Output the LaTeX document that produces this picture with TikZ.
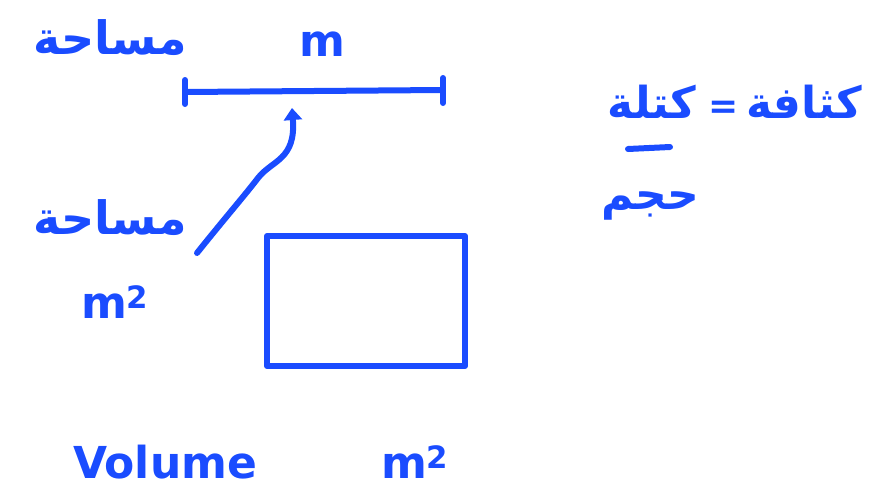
\documentclass[tikz,border=0pt]{standalone}
\usepackage{fontspec}
\setmainfont{DejaVu Sans}
\newfontfamily\arabicfont[Script=Arabic]{DejaVu Sans}
\TeXXeTstate=1
\usetikzlibrary{arrows.meta}
\definecolor{ink}{RGB}{26,76,255}
\begin{document}
\begin{tikzpicture}[x=1pt,y=-1pt,
  stroke/.style={draw=ink,line width=6pt,line cap=round,line join=round},
  hand/.style={text=ink,inner sep=0pt},
  ar/.style={hand,font=\arabicfont\bfseries\fontsize{46}{52}\selectfont},
  arbig/.style={hand,font=\arabicfont\bfseries\fontsize{44}{50}\selectfont},
  lat/.style={hand,font=\bfseries\fontsize{44}{50}\selectfont}]
\useasboundingbox (0,0) rectangle (871,491);
% top-left label
\node[ar] (area1) at (110,38) {\beginR مساحة\endR};
% segment
\coordinate (segL) at (185,92);
\coordinate (segR) at (442,90);
\draw[stroke] (segL) -- (segR);
\draw[stroke] (185,80) -- (185,104);
\draw[stroke] (443,78) -- (443,103);
\node[lat] (munit) at (322,44) {m};
% left label with arrow
\node[ar] (area2) at (110,218) {\beginR مساحة\endR};
\node[lat,anchor=base] (munit2) at (115,318) {m\textsuperscript{2}};
\coordinate (astart) at (197,253);
\coordinate (aend) at (292,108);
\draw[stroke,-{Triangle[length=12pt,width=18pt]}] (astart) .. controls (225,218) and (245,195) .. (258,178)
  .. controls (272,160) and (296,160) .. (aend);
% rectangle
\node[stroke,minimum width=198,minimum height=130,inner sep=0pt] (box) at (366,301) {};
% bottom labels
\node[lat,anchor=base] (vol) at (165,478) {Volume};
\node[lat,anchor=base] (munit3) at (415,478) {m\textsuperscript{2}};
% density formula
\node[arbig] (density) at (804,102) {\beginR كثافة\endR};
\node[arbig,font=\bfseries\fontsize{36}{40}\selectfont] (eq) at (724,110) {=};
\node[arbig] (mass) at (652,102) {\beginR كتلة\endR};
\coordinate (barL) at (628,149);
\coordinate (barR) at (670,147);
\draw[stroke] (barL) -- (barR);
\node[arbig] (volume) at (650,206) {\beginR حجم\endR};
\end{tikzpicture}
\end{document}
